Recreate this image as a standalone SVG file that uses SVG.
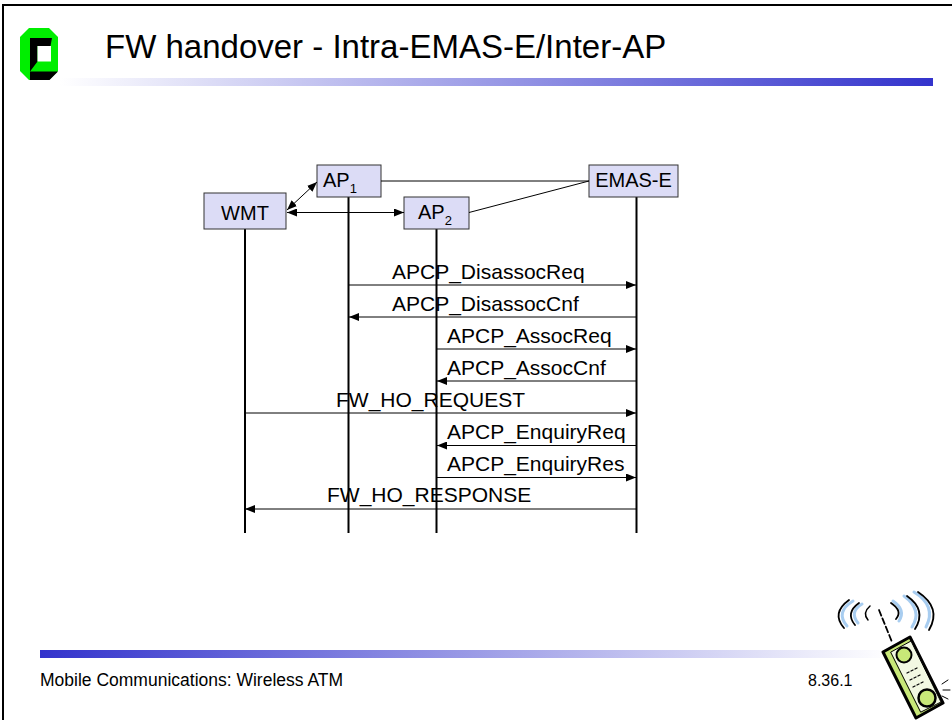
<svg xmlns="http://www.w3.org/2000/svg" width="952" height="720" viewBox="0 0 952 720">
  <defs>
    <linearGradient id="titleBar" x1="0" y1="0" x2="1" y2="0">
      <stop offset="0" stop-color="#ffffff"/>
      <stop offset="1" stop-color="#3333cc"/>
    </linearGradient>
    <linearGradient id="footBar" x1="0" y1="0" x2="1" y2="0">
      <stop offset="0" stop-color="#3333cc"/>
      <stop offset="1" stop-color="#ffffff"/>
    </linearGradient>
    <marker id="arrow" viewBox="0 0 10 8" refX="10" refY="4" markerWidth="10" markerHeight="8" markerUnits="userSpaceOnUse" orient="auto-start-reverse">
      <path d="M0,0 L10,4 L0,8 Z" fill="#000"/>
    </marker>
    <style>
      .t { font-family: "Liberation Sans", Arial, sans-serif; fill: #000; }
      .node rect { fill: #dcdcf6; stroke: #333; stroke-width: 1; }
      .nlabel { font-size: 20px; }
      .sub { font-size: 13px; }
      .life { stroke: #000; stroke-width: 2; }
      .msg { stroke: #000; stroke-width: 1; fill: none; }
      .mlabel { font-size: 21px; }
    </style>
  </defs>

  <rect x="0" y="0" width="952" height="720" fill="#fff"/>

  <!-- slide frame -->
  <path d="M3,720 V5 H952" fill="none" stroke="#000" stroke-width="2"/>

  <!-- university logo -->
  <g id="logo">
    <polygon points="29,28 49,28 58,37 58,71 49,80 29,80 20,71 20,37" fill="#00ee00"/>
    <polygon points="30,38 52,38 50.5,46 37.5,46 37.5,61.5 30,71.5" fill="#000"/>
    <polygon points="30,71.5 58,71.5 49.5,80 30,80" fill="#000"/>
    <rect x="37.5" y="46" width="13.5" height="15.5" fill="#fff"/>
  </g>

  <!-- title -->
  <text class="t" x="105" y="58" font-size="33">FW handover - Intra-EMAS-E/Inter-AP</text>
  <rect x="60" y="78" width="873" height="8" fill="url(#titleBar)"/>

  <!-- lifelines -->
  <g id="lifelines">
    <line class="life" x1="245" y1="229" x2="245" y2="533"/>
    <line class="life" x1="348.5" y1="197" x2="348.5" y2="533"/>
    <line class="life" x1="436.5" y1="229" x2="436.5" y2="533"/>
    <line class="life" x1="636.5" y1="197" x2="636.5" y2="533"/>
  </g>

  <!-- nodes -->
  <g id="node-ap1" class="node">
    <rect x="317" y="165" width="64" height="32"/>
    <text class="t nlabel" x="323" y="187">AP<tspan class="sub" dy="6">1</tspan></text>
  </g>
  <g id="node-emas" class="node">
    <rect x="589" y="165" width="89" height="32"/>
    <text class="t nlabel" x="633.5" y="187" text-anchor="middle">EMAS-E</text>
  </g>
  <g id="node-wmt" class="node">
    <rect x="204" y="193" width="82" height="36"/>
    <text class="t nlabel" x="245" y="220" text-anchor="middle">WMT</text>
  </g>
  <g id="node-ap2" class="node">
    <rect x="404" y="197" width="65" height="32"/>
    <text class="t nlabel" x="418" y="219">AP<tspan class="sub" dy="6">2</tspan></text>
  </g>

  <!-- connectors -->
  <g id="connectors">
    <line class="msg" x1="381" y1="181" x2="589" y2="181"/>
    <line class="msg" x1="469" y1="212.5" x2="589" y2="181"/>
    <line class="msg" x1="287" y1="210" x2="317" y2="182" marker-start="url(#arrow)" marker-end="url(#arrow)"/>
    <line class="msg" x1="287" y1="212.5" x2="404" y2="212.5" marker-start="url(#arrow)" marker-end="url(#arrow)"/>

    <line class="msg" x1="349" y1="285" x2="636" y2="285" marker-end="url(#arrow)"/>
    <line class="msg" x1="636" y1="317" x2="349" y2="317" marker-end="url(#arrow)"/>
    <line class="msg" x1="437" y1="349" x2="636" y2="349" marker-end="url(#arrow)"/>
    <line class="msg" x1="636" y1="381" x2="437" y2="381" marker-end="url(#arrow)"/>
    <line class="msg" x1="245" y1="413" x2="636" y2="413" marker-end="url(#arrow)"/>
    <line class="msg" x1="636" y1="445.5" x2="437" y2="445.5" marker-end="url(#arrow)"/>
    <line class="msg" x1="437" y1="477.5" x2="636" y2="477.5" marker-end="url(#arrow)"/>
    <line class="msg" x1="636" y1="509" x2="245" y2="509" marker-end="url(#arrow)"/>
  </g>

  <!-- message labels -->
  <g id="labels">
    <text class="t mlabel" x="392" y="279">APCP_DisassocReq</text>
    <text class="t mlabel" x="392" y="311">APCP_DisassocCnf</text>
    <text class="t mlabel" x="447" y="343">APCP_AssocReq</text>
    <text class="t mlabel" x="447" y="375">APCP_AssocCnf</text>
    <text class="t mlabel" x="336" y="407">FW_HO_REQUEST</text>
    <text class="t mlabel" x="447" y="439">APCP_EnquiryReq</text>
    <text class="t mlabel" x="447" y="471">APCP_EnquiryRes</text>
    <text class="t mlabel" x="327" y="502">FW_HO_RESPONSE</text>
  </g>

  <!-- footer -->
  <rect x="40" y="650" width="850" height="8" fill="url(#footBar)"/>
  <text class="t" x="40" y="686" font-size="17.5">Mobile Communications: Wireless ATM</text>
  <text class="t" x="808" y="686" font-size="16">8.36.1</text>

  <!-- mobile phone clip art -->
  <g id="phone" stroke-linecap="round" stroke-linejoin="round" fill="none">
    <!-- radio waves -->
    <path d="M853,601 Q835,612 847,626" stroke="#a8cdf0" stroke-width="3"/>
    <path d="M849,600 Q831,613 844,628" stroke="#000" stroke-width="1.8"/>
    <path d="M862,604 Q849,612 858,623" stroke="#a8cdf0" stroke-width="3"/>
    <path d="M859,603 Q845,613 855,625" stroke="#000" stroke-width="1.8"/>
    <path d="M870,606 Q862,613 868,620" stroke="#000" stroke-width="1.5"/>
    <path d="M893,601 Q906,610 899,621" stroke="#a8cdf0" stroke-width="3"/>
    <path d="M891,603 Q903,611 896,619" stroke="#000" stroke-width="1.8"/>
    <path d="M904,596 Q923,610 912,627" stroke="#a8cdf0" stroke-width="3"/>
    <path d="M907,596 Q927,610 915,629" stroke="#000" stroke-width="1.8"/>
    <path d="M914,592 Q937,606 926,627" stroke="#a8cdf0" stroke-width="3"/>
    <path d="M918,592 Q942,608 929,630" stroke="#000" stroke-width="1.8"/>
    <!-- antenna -->
    <path d="M879,610 L892,642" stroke="#000" stroke-width="1.8" stroke-dasharray="6 3"/>
    <!-- handset body -->
    <path d="M883,652 L910,637 L943,703 L916,718 Z" fill="#c8e878" stroke="#000" stroke-width="3"/>
    <path d="M891,652 L911,641 L941,702 L921,712 Z" fill="#f2f8e2" stroke="#000" stroke-width="1"/>
    <circle cx="904" cy="655" r="7.5" fill="#c8e878" stroke="#000" stroke-width="2"/>
    <circle cx="927" cy="698" r="8.5" fill="#c8e878" stroke="#000" stroke-width="2.5"/>
    <g stroke="#000" stroke-width="1.2">
      <path d="M907,673 l2,-1 M911,671 l2,-1 M915,669 l2,-1"/>
      <path d="M910,680 l2,-1 M914,678 l2,-1 M918,676 l2,-1"/>
      <path d="M913,687 l2,-1 M917,685 l2,-1 M921,683 l2,-1"/>
    </g>
    <path d="M942,684 L948,680 M943,690 L950,690 M942,696 L948,699" stroke="#000" stroke-width="1"/>
  </g>
</svg>
